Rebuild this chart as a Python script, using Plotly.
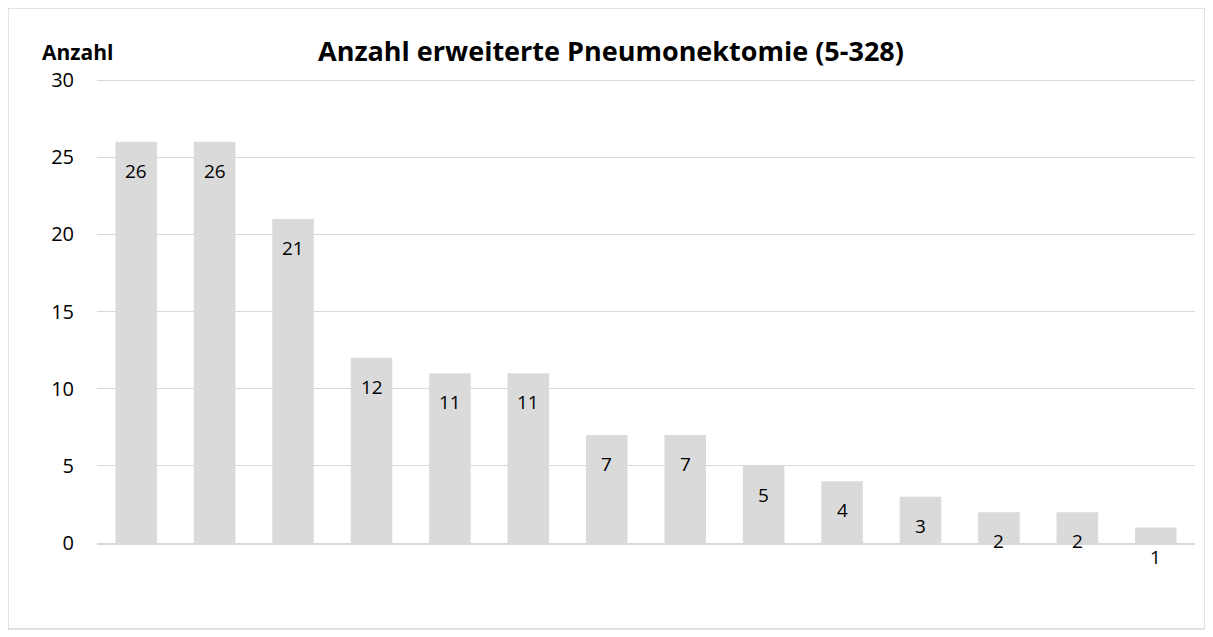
import plotly.graph_objects as go

categories = ["K1", "K2", "K3", "K4", "K5", "K6", "K7", "K8", "K9", "K10", "K11", "K12", "K13", "K14"]
values = [26, 26, 21, 12, 11, 11, 7, 7, 5, 4, 3, 2, 2, 1]
y_ticks = [0, 5, 10, 15, 20, 25, 30]

FONT = "Open Sans"
W, H = 1213, 637
L, R, T, B = 89, 26, 70, 102
pw, ph = W - L - R, H - T - B
bottom = H - B
y_top = 30 * ph / (ph - 2)

fig = go.Figure()
fig.add_trace(go.Bar(
    x=categories, y=values,
    marker=dict(color="#DADADA", line=dict(width=0)),
    hoverinfo="y",
))

for c, v in zip(categories, values):
    fig.add_annotation(x=c, y=v, text=str(v), showarrow=False,
                       yshift=-29, yanchor="middle",
                       font=dict(family=FONT, size=19, color="#000000"))

fig.add_annotation(xref="paper", yref="paper",
                   x=(32 - L) / pw, y=(bottom - 44) / ph,
                   xanchor="left", yanchor="middle", showarrow=False,
                   text="<b>Anzahl</b>",
                   font=dict(family=FONT, size=21, color="#000000"))

fig.add_shape(type="rect", xref="paper", yref="paper",
              x0=(0 - L) / pw, x1=(1197 - L) / pw,
              y0=(bottom - 621) / ph, y1=(bottom - 0) / ph,
              line=dict(color="#D9D9D9", width=1.5), layer="below")

fig.update_layout(
    width=W, height=H,
    margin=dict(l=L, r=R, t=T, b=B),
    paper_bgcolor="white", plot_bgcolor="white",
    bargap=0.47,
    showlegend=False,
    title=dict(text="<b>Anzahl erweiterte Pneumonektomie (5-328)</b>",
               x=603 / W, xanchor="center", y=1 - 44 / H, yanchor="middle",
               font=dict(family=FONT, size=27, color="#000000")),
    xaxis=dict(type="category", showticklabels=False, showgrid=False, zeroline=False,
               showline=True, linecolor="#D9D9D9", linewidth=2, ticks=""),
    yaxis=dict(range=[0, y_top], tickvals=y_ticks, showgrid=True,
               gridcolor="#D9D9D9", gridwidth=1.3, zeroline=False,
               showline=False, ticks="", ticklabelstandoff=22,
               tickfont=dict(family=FONT, size=20, color="#000000")),
)

fig.write_html("out.html")
